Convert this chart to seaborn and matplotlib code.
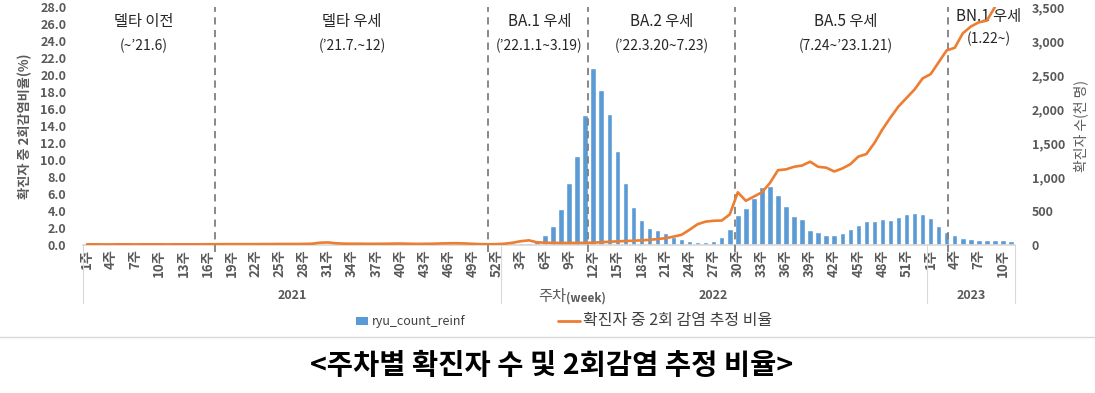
import numpy as np
import pandas as pd
import seaborn as sns
import matplotlib.pyplot as plt
from matplotlib.lines import Line2D
from matplotlib.patches import Rectangle

# weekly categories (2022 has 53 weeks in this series)
weeks_2021 = list(range(1, 53))
weeks_2022 = list(range(1, 54))
weeks_2023 = list(range(1, 12))

# confirmed cases per week (thousand)
cases_2021 = [5, 4, 3, 3, 3, 3, 3, 3, 3, 3, 3, 3, 4, 4, 4, 4, 4, 4, 4, 4,
              4, 3, 3, 3, 3, 4, 6, 8, 9, 10, 10, 10, 10, 9, 10, 9, 10, 11, 12, 10,
              9, 10, 11, 12, 14, 15, 16, 17, 18, 17, 15, 14]
cases_2022 = [25, 25, 34, 34, 74, 148, 284, 530, 906, 1309, 1906, 2598, 2275, 1925, 1388,
              913, 559, 363, 250, 220, 171, 118, 84, 56, 49, 46, 56, 115, 235, 441,
              549, 686, 848, 868, 735, 574, 426, 378, 225, 194, 148, 148, 171, 235, 294,
              350, 358, 378, 368, 416, 459, 469, 451]
cases_2023 = [393, 280, 191, 148, 103, 89, 79, 69, 74, 74, 64]

# estimated reinfection share among confirmed cases (%)
ratio_2021 = [0.08, 0.08, 0.07, 0.07, 0.08, 0.08, 0.07, 0.08, 0.08, 0.08,
              0.07, 0.08, 0.08, 0.08, 0.08, 0.09, 0.09, 0.10, 0.10, 0.10,
              0.10, 0.10, 0.11, 0.11, 0.12, 0.12, 0.12, 0.13, 0.15, 0.27,
              0.30, 0.20, 0.16, 0.15, 0.15, 0.14, 0.14, 0.15, 0.16, 0.17,
              0.15, 0.13, 0.14, 0.15, 0.18, 0.20, 0.21, 0.18, 0.14, 0.10,
              0.09, 0.10]
ratio_2022 = [0.15, 0.27, 0.45, 0.55, 0.32, 0.27, 0.25, 0.24, 0.24, 0.24,
              0.25, 0.27, 0.33, 0.38, 0.43, 0.47, 0.50, 0.55, 0.60, 0.70,
              0.80, 0.98, 1.20, 1.80, 2.45, 2.75, 2.85, 2.88, 3.60, 6.20,
              5.20, 5.70, 6.20, 7.30, 8.80, 8.90, 9.20, 9.35, 9.80, 9.20,
              9.10, 8.65, 9.00, 9.50, 10.40, 10.70, 12.00, 13.60, 15.00, 16.30,
              17.30, 18.30, 19.60]
ratio_2023 = [20.1, 21.5, 22.9, 23.2, 24.9, 25.7, 26.2, 26.4, 28.0]

periods = [("델타 이전", "(~’21.6)"),
           ("델타 우세", "(’21.7.~12)"),
           ("BA.1 우세", "(’22.1.1~3.19)"),
           ("BA.2 우세", "(’22.3.20~7.23)"),
           ("BA.5 우세", "(7.24~’23.1.21)"),
           ("BN.1 우세", "(1.22~)")]
period_x = [7.0, 33.0, 56.3, 71.5, 94.4, 112.2]
period_bounds = [15.9, 49.9, 62.4, 80.7, 107.2]

BLUE = '#5B9BD5'
ORANGE = '#ED7D31'
GRAY = '#595959'
W, H = 1095, 393

weeks = weeks_2021 + weeks_2022 + weeks_2023
years = [2021] * len(weeks_2021) + [2022] * len(weeks_2022) + [2023] * len(weeks_2023)
df = pd.DataFrame({'idx': range(len(weeks)), 'week': weeks, 'year': years,
                   'cases': cases_2021 + cases_2022 + cases_2023})
ratio = ratio_2021 + ratio_2022 + ratio_2023
line_df = pd.DataFrame({'idx': range(len(ratio)), 'ratio': ratio})

sns.set_theme(style='white')
plt.rcParams['font.family'] = ['Noto Sans CJK KR', 'DejaVu Sans']

fig = plt.figure(figsize=(W / 100, H / 100), dpi=100)
ax = fig.add_axes([83 / W, 1 - 245 / H, (1015 - 83) / W, 238 / H])
ax2 = ax.twinx()

sns.barplot(data=df, x='idx', y='cases', ax=ax, color=BLUE, saturation=1, width=0.68)
sns.lineplot(data=line_df, x='idx', y='ratio', ax=ax2, color=ORANGE, linewidth=1.9,
             zorder=3, legend=False)

n = len(weeks)
ax.set_xlim(-0.5, n - 0.5)
ax.set_ylim(0, 3500)
ax2.set_ylim(0, 28)

# swap sides: bars (thousand) on the right, ratio (%) on the left
ax.yaxis.tick_right()
ax.yaxis.set_label_position('right')
ax2.yaxis.tick_left()
ax2.yaxis.set_label_position('left')

ax.set_yticks(range(0, 3501, 500))
ax.set_yticklabels([f"{v:,}" for v in range(0, 3501, 500)], fontsize=9,
                   fontweight='bold', color=GRAY, ha='left')
ax2.set_yticks(np.arange(0, 28.1, 2))
ax2.set_yticklabels([f"{v:.1f}" for v in np.arange(0, 28.1, 2)], fontsize=9,
                    fontweight='bold', color=GRAY)
ax.tick_params(axis='y', length=0, pad=12)
ax2.tick_params(axis='y', length=0, pad=12)

ticks = [i for i in range(n) if i % 3 == 0]
ax.set_xticks(ticks)
ax.set_xticklabels([f"{weeks[i]}주" for i in ticks], rotation=90, fontsize=9.5,
                   fontweight='bold', color=GRAY)
ax.tick_params(axis='x', length=0, pad=3)

ax.set_xlabel('')
ax.set_ylabel('확진자 수(천 명)', fontsize=10, color=GRAY, labelpad=6)
ax2.set_ylabel('확진자 중 2회감염비율(%)', fontsize=9.5, fontweight='bold', color=GRAY,
               labelpad=6)

for s in ax.spines.values():
    s.set_visible(False)
for s in ax2.spines.values():
    s.set_visible(False)
ax.spines['bottom'].set_visible(True)
ax.spines['bottom'].set_color('#d9d9d9')

# year groups under the week labels
trans = ax.get_xaxis_transform()
for xb in [-0.5, 51.5, 104.5, n - 0.5]:
    ax.plot([xb, xb], [0, -0.245], transform=trans, color='#d9d9d9', lw=0.8,
            clip_on=False)
for yr in [2021, 2022, 2023]:
    pos = df.loc[df['year'] == yr, 'idx']
    ax.text((pos.min() + pos.max()) / 2, -0.214, str(yr), transform=trans,
            ha='center', va='center', fontsize=9, fontweight='bold', color=GRAY)

fig.text(566 / W, 1 - 297 / H, '주차', ha='right', va='center', fontsize=11,
         color=GRAY)
fig.text(566 / W, 1 - 298 / H, '(week)', ha='left', va='center', fontsize=8.5,
         fontweight='bold', color=GRAY)

# variant periods
for xb in period_bounds:
    ax2.axvline(xb, ymin=-0.03, ymax=1.0, color='#7f7f7f', lw=1.3,
                ls=(0, (4, 3)), zorder=1, clip_on=False)
for (t1, t2), xc in zip(periods, period_x):
    y1, y2 = (0.958, 0.866) if t1.startswith('BN') else (0.937, 0.836)
    ax.text(xc, y1, t1, transform=trans, ha='center', va='center', fontsize=11,
            color='#262626')
    ax.text(xc, y2, t2, transform=trans, ha='center', va='center', fontsize=10,
            color='#262626')

# legend drawn by hand so each entry sits where it does in the source
fig.add_artist(Rectangle((356 / W, 1 - 325 / H), 12 / W, 8 / H, transform=fig.transFigure,
                         facecolor=BLUE, edgecolor='none'))
fig.text(372 / W, 1 - 321 / H, 'ryu_count_reinf', ha='left', va='center', fontsize=9,
         color='#404040')
fig.add_artist(Line2D([558 / W, 580 / W], [1 - 321 / H] * 2, color=ORANGE, lw=2))
fig.text(583 / W, 1 - 321 / H, '확진자 중 2회 감염 추정 비율', ha='left', va='center',
         fontsize=11.5, color='#404040')

fig.add_artist(Line2D([0, 1], [1 - 337 / H] * 2, color='#d9d9d9', lw=1))
fig.text(552 / W, 1 - 366 / H, '<주차별 확진자 수 및 2회감염 추정 비율>', ha='center',
         va='center', fontsize=20.5, fontweight='bold', color='black')

fig.savefig('out.png', dpi=100)
